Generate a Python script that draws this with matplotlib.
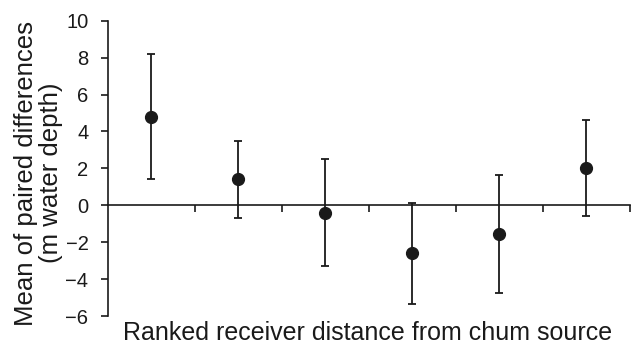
import numpy as np
import matplotlib.pyplot as plt

# Ranked receiver position (1 = closest to chum source)
ranks = [1, 2, 3, 4, 5, 6]
means = [4.8, 1.4, -0.4, -2.6, -1.55, 2.0]
errors = [3.4, 2.1, 2.9, 2.75, 3.2, 2.6]

plt.rcParams['font.family'] = ['Liberation Sans', 'DejaVu Sans']

fig = plt.figure(figsize=(6.31, 3.44), dpi=100)
ax = fig.add_axes([0.171, 0.081, 0.827, 0.859])

ax.errorbar(ranks, means, yerr=errors, fmt='o', color='#1a1a1a',
            markersize=8.5, elinewidth=1.3, capsize=3, capthick=1.3)

ax.set_xlim(0.5, 6.5)
ax.set_ylim(-6, 10)
ax.set_yticks(np.arange(-6, 11, 2))
ax.set_xticks(np.arange(1.5, 7, 1))
ax.set_xticklabels([])

ax.spines['top'].set_visible(False)
ax.spines['right'].set_visible(False)
ax.spines['bottom'].set_position(('data', 0))
for s in ['left', 'bottom']:
    ax.spines[s].set_linewidth(1.2)
    ax.spines[s].set_color('#1a1a1a')

ax.tick_params(axis='y', direction='out', length=5, width=1.2,
               labelsize=14.5, colors='#1a1a1a', pad=9)
ax.tick_params(axis='x', direction='out', length=5, width=1.2,
               colors='#1a1a1a')

# y label: two centred lines, right edge ~62 px
fig.text(63 / 631, 0.5 - 0.003, 'Mean of paired differences\n(m water depth)',
         rotation=90, ha='right', va='center', multialignment='center',
         fontsize=18.5, color='#1a1a1a', linespacing=1.05)
fig.text(0.582, 1 - 321 / 344, 'Ranked receiver distance from chum source',
         ha='center', va='top', fontsize=18, color='#1a1a1a')

fig.savefig('out.png', dpi=100)
